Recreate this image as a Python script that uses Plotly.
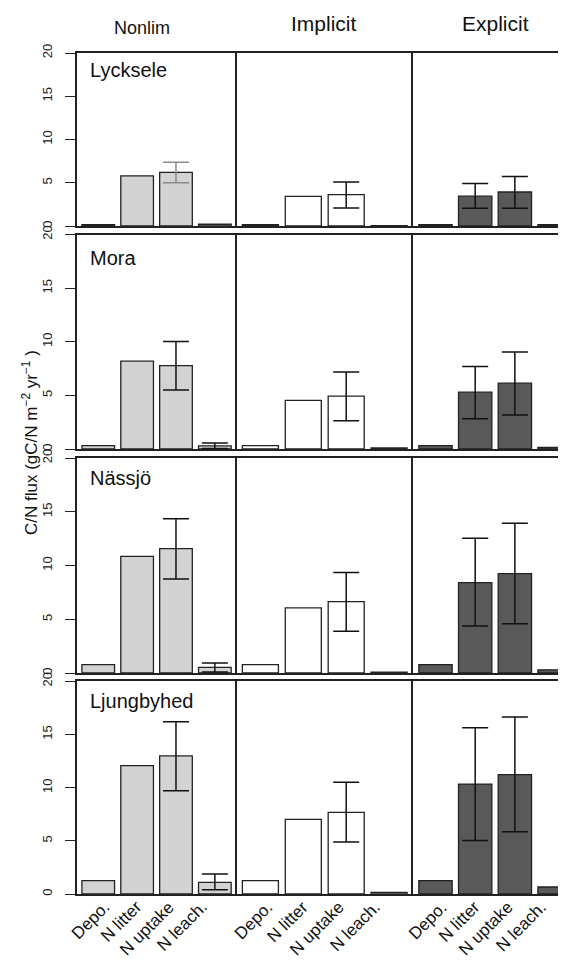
import plotly.graph_objects as go

# ---------------- data ----------------
sites = ["Lycksele", "Mora", "Nässjö", "Ljungbyhed"]
models = ["Nonlim", "Implicit", "Explicit"]
fluxes = ["Depo.", "N litter", "N uptake", "N leach."]

# bar heights, one list per site (rows), fluxes in order
nonlim = [
    [0.15, 5.8, 6.2, 0.2],
    [0.31, 8.19, 7.78, 0.3],
    [0.78, 10.85, 11.57, 0.53],
    [1.25, 12.07, 12.98, 1.1],
]
implicit = [
    [0.15, 3.43, 3.62, 0.05],
    [0.31, 4.53, 4.93, 0.1],
    [0.78, 6.05, 6.64, 0.09],
    [1.25, 7.02, 7.68, 0.16],
]
explicit = [
    [0.15, 3.45, 3.93, 0.15],
    [0.31, 5.3, 6.14, 0.16],
    [0.78, 8.4, 9.24, 0.3],
    [1.25, 10.34, 11.22, 0.66],
]

# error-bar limits (None = no error bar)
nonlim_lo = [
    [None, None, 5.0, None],
    [None, None, 5.49, 0.05],
    [None, None, 8.74, 0.09],
    [None, None, 9.72, 0.41],
]
nonlim_hi = [
    [None, None, 7.36, None],
    [None, None, 10.02, 0.56],
    [None, None, 14.36, 0.93],
    [None, None, 16.2, 1.88],
]
implicit_lo = [
    [None, None, 2.08, None],
    [None, None, 2.64, None],
    [None, None, 3.88, None],
    [None, None, 4.89, None],
]
implicit_hi = [
    [None, None, 5.09, None],
    [None, None, 7.19, None],
    [None, None, 9.36, None],
    [None, None, 10.5, None],
]
explicit_lo = [
    [None, 2.04, 2.04, None],
    [None, 2.82, 3.16, None],
    [None, 4.37, 4.59, None],
    [None, 5.02, 5.86, None],
]
explicit_hi = [
    [None, 4.9, 5.72, None],
    [None, 7.69, 9.05, None],
    [None, 12.53, 13.92, None],
    [None, 15.64, 16.65, None],
]
y_ticks = [0, 5, 10, 15, 20]

model_vals = [nonlim, implicit, explicit]
model_lo = [nonlim_lo, implicit_lo, explicit_lo]
model_hi = [nonlim_hi, implicit_hi, explicit_hi]
fill_colors = ["#d3d3d3", "#ffffff", "#595959"]

# ---------------- layout geometry ----------------
W, H = 566, 961
FONT = "Liberation Sans, Arial, Helvetica, sans-serif"
LINE = "#222222"


def fx(p):
    return p / W


def fy(p):
    return 1 - p / H


col_px = [(68.6, 228.5), (228.5, 405.0), (405.0, 566.0)]
col_range = [(-0.557, 3.557), (-0.557, 3.557), (-0.567, 3.49)]
row_px = [(45.0, 218.0), (226.5, 441.0), (450.0, 665.0), (673.3, 886.0)]

fig = go.Figure()
layout = dict(
    template="none",
    width=W, height=H,
    margin=dict(l=0, r=0, t=0, b=0, pad=0),
    paper_bgcolor="white", plot_bgcolor="white",
    showlegend=False,
    bargap=0.16,
    font=dict(family=FONT, color="#111111"),
)
annotations = []

for r in range(4):
    for c in range(3):
        i = r * 3 + c + 1
        xa = "x" if i == 1 else f"x{i}"
        ya = "y" if i == 1 else f"y{i}"
        vals = model_vals[c][r]
        fig.add_trace(go.Bar(
            x=fluxes, y=vals, xaxis=xa, yaxis=ya,
            marker=dict(color=fill_colors[c], line=dict(color=LINE, width=1.3)),
            hoverinfo="skip",
        ))
        lo = model_lo[c][r]
        hi = model_hi[c][r]
        ex, ey, ep, em = [], [], [], []
        for k in range(4):
            if lo[k] is not None:
                ex.append(fluxes[k])
                ey.append(vals[k])
                ep.append(hi[k] - vals[k])
                em.append(vals[k] - lo[k])
        if ex:
            ecol = "#8a8a8a" if (r == 0 and c == 0) else "#111111"
            fig.add_trace(go.Scatter(
                x=ex, y=ey, xaxis=xa, yaxis=ya, mode="markers",
                marker=dict(size=1, color="rgba(0,0,0,0)"),
                error_y=dict(type="data", symmetric=False, array=ep, arrayminus=em,
                             color=ecol, thickness=1.5, width=13),
                hoverinfo="skip",
            ))
        xkey = "xaxis" if i == 1 else f"xaxis{i}"
        ykey = "yaxis" if i == 1 else f"yaxis{i}"
        layout[xkey] = dict(
            domain=[fx(col_px[c][0]), fx(col_px[c][1])],
            anchor=ya, type="category", categoryorder="array", categoryarray=fluxes,
            range=list(col_range[c]), automargin=False,
            showline=True, mirror=True, linecolor=LINE, linewidth=1.5,
            showgrid=False, zeroline=False, ticks="", showticklabels=False,
        )
        layout[ykey] = dict(
            domain=[fy(row_px[r][1]), fy(row_px[r][0])],
            anchor=xa, range=[0, 20], tickvals=y_ticks, automargin=False,
            showline=True, mirror=False, linecolor=LINE, linewidth=1.5,
            showgrid=False, zeroline=False,
            ticks="outside" if c == 0 else "", ticklen=10, tickwidth=1.3, tickcolor=LINE,
            showticklabels=(c == 0), tickangle=-90, ticklabelstandoff=8,
            tickfont=dict(size=13, family=FONT, color="#222222"),
        )
        # rotated category labels under the bottom row (R-style text(srt=45) placement:
        # labels sit at unit spacing while bars sit at 1.2-unit spacing)
        if r == 3:
            for k, name in enumerate(fluxes):
                annotations.append(dict(
                    text=name, xref=xa, yref="paper", x=(k + 0.3) / 1.2, y=fy(887),
                    xanchor="right", yanchor="top", xshift=8, textangle=-45,
                    showarrow=False, font=dict(size=17, family=FONT, color="#111111"),
                ))

# column titles
title_pos = [(134, 20, 18), (316, 16, 21), (487, 16, 21)]
for m, (x, y, s) in zip(models, title_pos):
    annotations.append(dict(text=m, x=fx(x), y=fy(y), xref="paper", yref="paper",
                            showarrow=False, xanchor="center", yanchor="middle",
                            font=dict(size=s, family=FONT, color="#111111")))
# site labels
site_mid = [62, 249.5, 469.5, 693.3]
for s, b in zip(sites, site_mid):
    annotations.append(dict(text=s, x=fx(80), y=fy(b), xref="paper", yref="paper",
                            showarrow=False, xanchor="left", yanchor="middle",
                            font=dict(size=20, family=FONT, color="#111111")))
# y-axis title
annotations.append(dict(text="C/N flux (gC/N m<sup>\u22122</sup> yr<sup>\u22121</sup> )",
                        x=fx(22), y=fy(435), xref="paper", yref="paper",
                        showarrow=False, textangle=-90, xanchor="center", yanchor="middle",
                        font=dict(size=17, family=FONT, color="#111111")))
layout["annotations"] = annotations

fig.update_layout(**layout)
fig.write_html("out.html")
